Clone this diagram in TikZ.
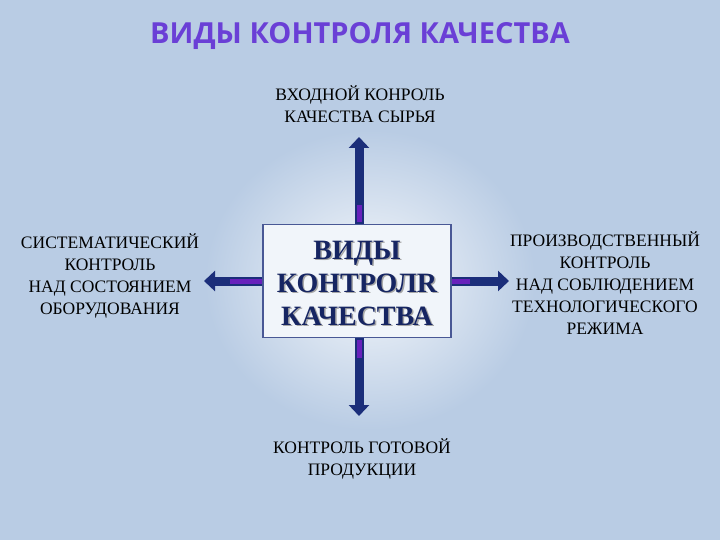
\documentclass[tikz,border=0pt]{standalone}
\usepackage{fontspec}
\setmainfont{Liberation Serif}
\newfontfamily\titlefont{Open Sans}
\usetikzlibrary{arrows.meta,shadings}
\definecolor{bg}{HTML}{B9CCE4}
\definecolor{navy}{HTML}{1B2E7A}
\definecolor{purp}{HTML}{8A1CD8}
\definecolor{titlec}{HTML}{6A3FD6}
\begin{document}
\begin{tikzpicture}[x=1pt,y=-1pt,
  lbl/.style={font=\fontsize{17.5}{22}\selectfont,align=center,text=black},
  arr/.style={line width=9pt,draw=navy,-{Triangle[width=20pt,length=11pt]}},
  glow/.style={line width=5pt,draw=purp,opacity=0.7}]
\fill[bg] (0,0) rectangle (720,540);
\shade[inner color=white!85!bg,outer color=bg] (205,130) rectangle (535,430);
\useasboundingbox (0,0) rectangle (720,540);
\node[font=\titlefont\bfseries\fontsize{29}{31}\selectfont,text=titlec] (title) at (360,36) {ВИДЫ КОНТРОЛЯ КАЧЕСТВА};
\node[draw=navy!80,line width=1.5pt,fill=white!80!bg,minimum width=188pt,minimum height=113pt,inner sep=0pt] (box) at (357,281) {};
\node[font=\bfseries\fontsize{28}{33}\selectfont,align=center,text=gray!70] at (358.5,284.5) {ВИДЫ\\КОНТРОЛR\\КАЧЕСТВА};
\node[font=\bfseries\fontsize{28}{33}\selectfont,align=center,text=navy!80!black] (boxt) at (357,283) {ВИДЫ\\КОНТРОЛR\\КАЧЕСТВА};
\coordinate (tp) at (359,137);
\coordinate (bt) at (359,416);
\coordinate (lf) at (204,281);
\coordinate (rt) at (509,281);
\draw[arr] (box.north-|tp) -- (tp);
\draw[arr] (box.south-|bt) -- (bt);
\draw[arr] (box.west) -- (lf);
\draw[arr] (box.east) -- (rt);
\draw[glow] (359,222) -- (359,205);
\draw[glow] (359,340) -- (359,358);
\draw[glow] (262,281) -- (230,281);
\draw[glow] (452,281) -- (470,281);
\node[lbl] (t1) at (360,104) {ВХОДНОЙ КОНРОЛЬ\\КАЧЕСТВА СЫРЬЯ};
\node[lbl] (t2) at (110,276) {СИСТЕМАТИЧЕСКИЙ\\КОНТРОЛЬ\\НАД СОСТОЯНИЕМ\\ОБОРУДОВАНИЯ};
\node[lbl] (t3) at (605,283) {ПРОИЗВОДСТВЕННЫЙ\\КОНТРОЛЬ\\НАД СОБЛЮДЕНИЕМ\\ТЕХНОЛОГИЧЕСКОГО\\РЕЖИМА};
\node[lbl] (t4) at (362,459) {КОНТРОЛЬ ГОТОВОЙ\\ПРОДУКЦИИ};
\end{tikzpicture}
\end{document}
